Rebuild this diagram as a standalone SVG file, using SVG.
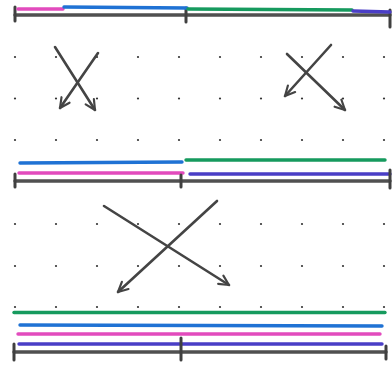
<svg xmlns="http://www.w3.org/2000/svg" width="392" height="367" viewBox="0 0 392 367">
<style>
.ln{stroke-width:3.4;stroke-linecap:round;fill:none}
.mg{stroke:#e24bbd}.bl{stroke:#1f72d4}.gr{stroke:#169a5e}.pu{stroke:#4a3ec6}.gy{stroke:#505050}
.tick{stroke:#404040;stroke-width:3;stroke-linecap:round}
.arr{stroke:#444;stroke-width:2.6;stroke-linecap:round;fill:none;marker-end:url(#ah)}
.dot{fill:#333}
</style>
<defs>
<marker id="ah" viewBox="0 0 12 12" refX="10.5" refY="6" markerWidth="13" markerHeight="13" orient="auto" markerUnits="userSpaceOnUse">
<path d="M1.5,1.5 L10.5,6 L1.5,10.5" fill="none" stroke="#444" stroke-width="2" stroke-linecap="round" stroke-linejoin="round"/>
</marker>
</defs>
<g id="grid">
<g class="dot">
<circle cx="15" cy="57" r="1.1"/><circle cx="56" cy="57" r="1.1"/><circle cx="97" cy="57" r="1.1"/><circle cx="138" cy="57" r="1.1"/><circle cx="179" cy="57" r="1.1"/><circle cx="220" cy="57" r="1.1"/><circle cx="261" cy="57" r="1.1"/><circle cx="302" cy="57" r="1.1"/><circle cx="343" cy="57" r="1.1"/><circle cx="384" cy="57" r="1.1"/>
<circle cx="15" cy="98.5" r="1.1"/><circle cx="56" cy="98.5" r="1.1"/><circle cx="97" cy="98.5" r="1.1"/><circle cx="138" cy="98.5" r="1.1"/><circle cx="179" cy="98.5" r="1.1"/><circle cx="220" cy="98.5" r="1.1"/><circle cx="261" cy="98.5" r="1.1"/><circle cx="302" cy="98.5" r="1.1"/><circle cx="343" cy="98.5" r="1.1"/><circle cx="384" cy="98.5" r="1.1"/>
<circle cx="15" cy="140" r="1.1"/><circle cx="56" cy="140" r="1.1"/><circle cx="97" cy="140" r="1.1"/><circle cx="138" cy="140" r="1.1"/><circle cx="179" cy="140" r="1.1"/><circle cx="220" cy="140" r="1.1"/><circle cx="261" cy="140" r="1.1"/><circle cx="302" cy="140" r="1.1"/><circle cx="343" cy="140" r="1.1"/><circle cx="384" cy="140" r="1.1"/>
<circle cx="15" cy="224" r="1.1"/><circle cx="56" cy="224" r="1.1"/><circle cx="97" cy="224" r="1.1"/><circle cx="138" cy="224" r="1.1"/><circle cx="179" cy="224" r="1.1"/><circle cx="220" cy="224" r="1.1"/><circle cx="261" cy="224" r="1.1"/><circle cx="302" cy="224" r="1.1"/><circle cx="343" cy="224" r="1.1"/><circle cx="384" cy="224" r="1.1"/>
<circle cx="15" cy="266" r="1.1"/><circle cx="56" cy="266" r="1.1"/><circle cx="97" cy="266" r="1.1"/><circle cx="138" cy="266" r="1.1"/><circle cx="179" cy="266" r="1.1"/><circle cx="220" cy="266" r="1.1"/><circle cx="261" cy="266" r="1.1"/><circle cx="302" cy="266" r="1.1"/><circle cx="343" cy="266" r="1.1"/><circle cx="384" cy="266" r="1.1"/>
<circle cx="15" cy="307" r="1.1"/><circle cx="56" cy="307" r="1.1"/><circle cx="97" cy="307" r="1.1"/><circle cx="138" cy="307" r="1.1"/><circle cx="179" cy="307" r="1.1"/><circle cx="220" cy="307" r="1.1"/><circle cx="261" cy="307" r="1.1"/><circle cx="302" cy="307" r="1.1"/><circle cx="343" cy="307" r="1.1"/><circle cx="384" cy="307" r="1.1"/>
</g>
</g>
<g id="top">
<line class="ln gy" x1="15" y1="15" x2="390" y2="15"/>
<line class="tick" x1="15" y1="7" x2="15" y2="21"/>
<line class="tick" x1="186" y1="8" x2="186" y2="22"/>
<line class="tick" x1="390" y1="10" x2="390" y2="27"/>
<line class="ln mg" x1="18" y1="9" x2="63" y2="9"/>
<line class="ln bl" x1="64" y1="7" x2="187" y2="8"/>
<line class="ln gr" x1="188" y1="9" x2="352" y2="10"/>
<line class="ln pu" x1="353" y1="11" x2="390" y2="12"/>
</g>
<g id="middle">
<line class="ln bl" x1="20" y1="163" x2="182" y2="162"/>
<line class="ln gr" x1="186" y1="160" x2="385" y2="160"/>
<line class="ln mg" x1="19" y1="173" x2="183" y2="173"/>
<line class="ln pu" x1="190" y1="174" x2="390" y2="174"/>
<line class="ln gy" x1="15" y1="181" x2="390" y2="181"/>
<line class="tick" x1="15" y1="174" x2="15" y2="187"/>
<line class="tick" x1="181" y1="175" x2="181" y2="187"/>
<line class="tick" x1="390" y1="170" x2="390" y2="188"/>
</g>
<g id="bottom">
<line class="ln gr" x1="14" y1="312.5" x2="385" y2="312.5"/>
<line class="ln bl" x1="20" y1="325" x2="382" y2="326"/>
<line class="ln mg" x1="18" y1="334" x2="380" y2="334"/>
<line class="ln pu" x1="19" y1="344" x2="382" y2="344"/>
<line class="ln gy" x1="14" y1="352" x2="386" y2="352"/>
<line class="tick" x1="14" y1="344" x2="14" y2="360"/>
<line class="tick" x1="181" y1="338" x2="181" y2="360"/>
<line class="tick" x1="386" y1="346" x2="386" y2="359"/>
</g>
<g id="connectors">
<line class="arr" x1="55" y1="47" x2="95" y2="110"/>
<line class="arr" x1="98" y1="53" x2="60" y2="108"/>
<line class="arr" x1="287" y1="54" x2="345" y2="110"/>
<line class="arr" x1="331" y1="45" x2="285" y2="96"/>
<line class="arr" x1="104" y1="206" x2="229" y2="285"/>
<line class="arr" x1="217" y1="201" x2="118" y2="292"/>
</g>
</svg>
